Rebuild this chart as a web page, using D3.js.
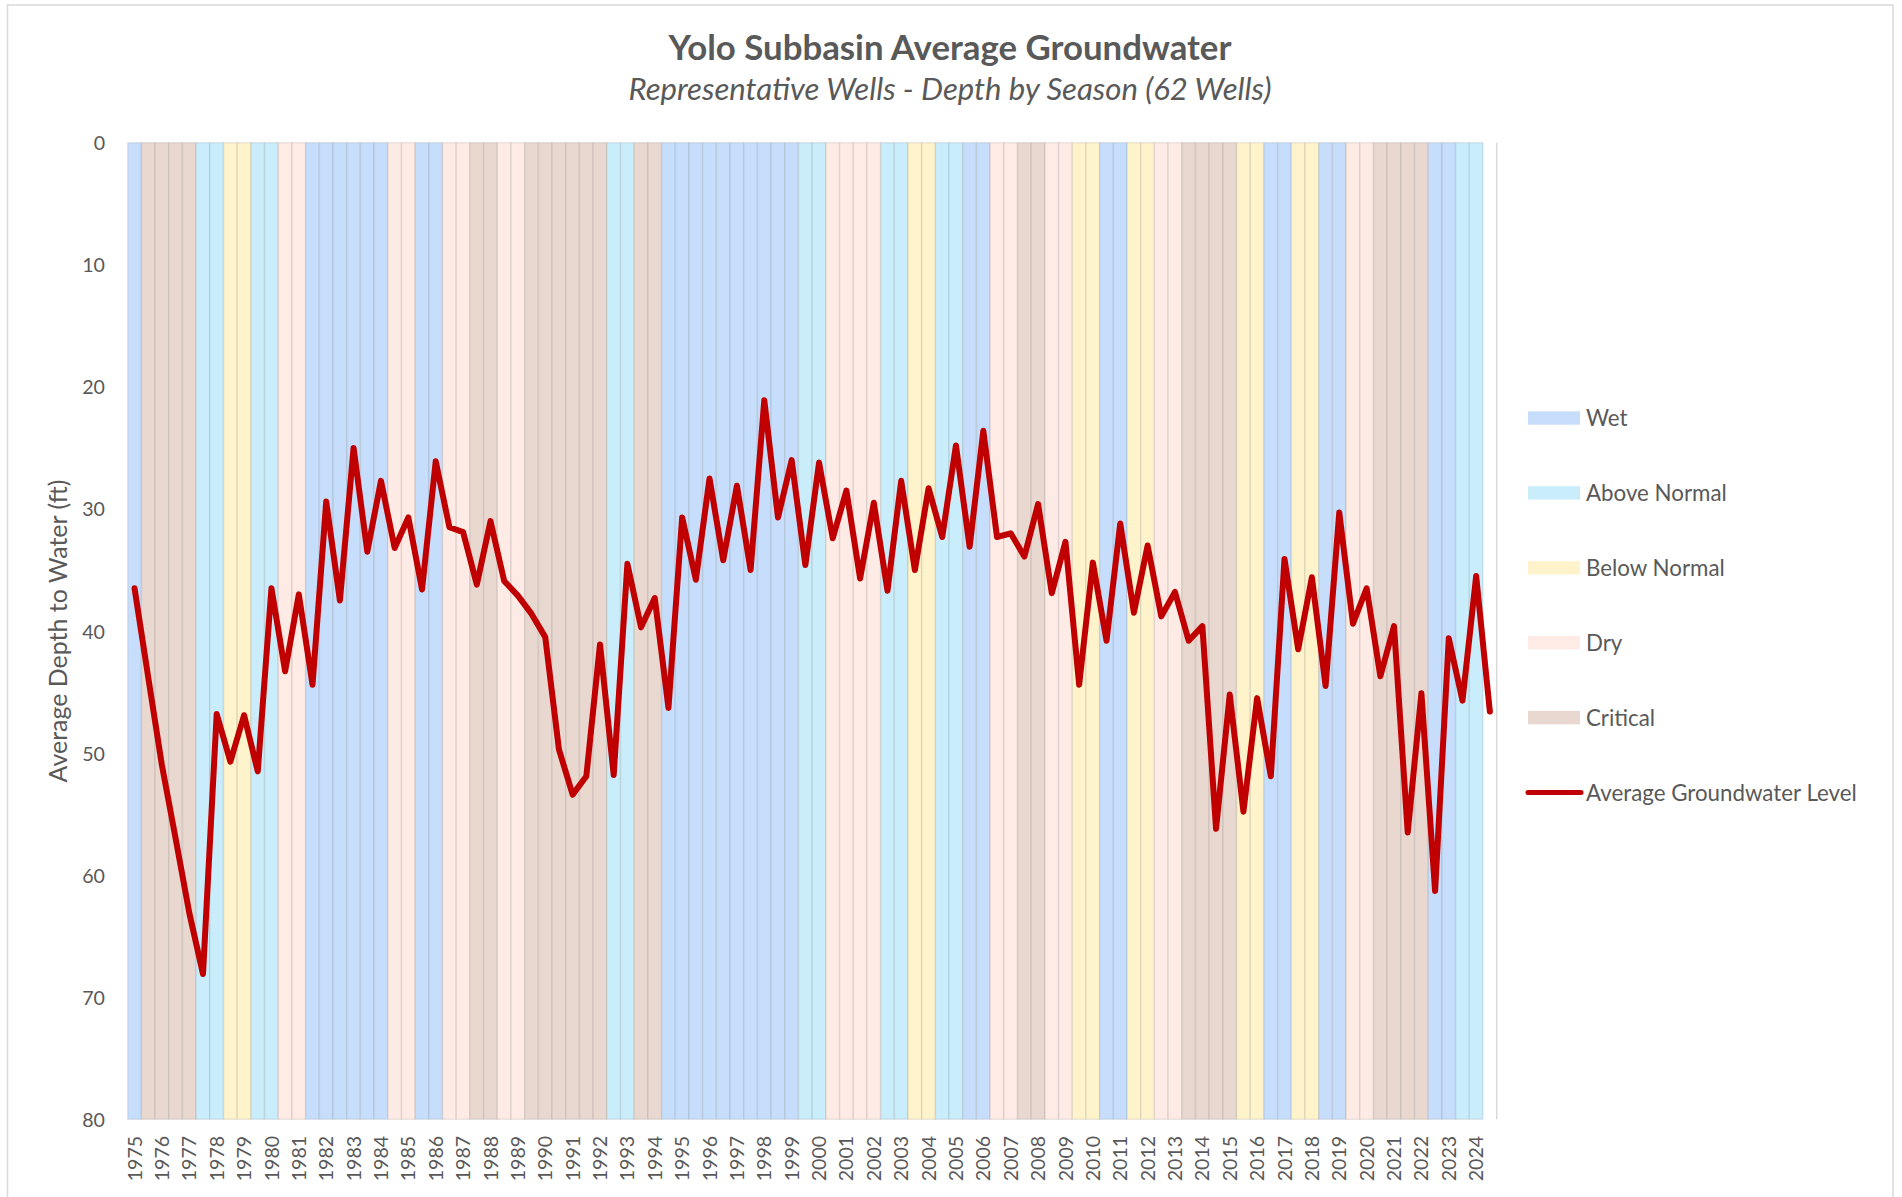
<!DOCTYPE html>
<html>
<head>
<meta charset="utf-8">
<script src="https://cdn.jsdelivr.net/npm/d3@7"></script>
<style>
  html, body { margin: 0; padding: 0; background: #ffffff; }
  svg { display: block; }
</style>
</head>
<body>
<svg id="chart" width="1902" height="1197"></svg>
<script>
// ---------------- DATA ----------------
const years = [1975,1976,1977,1978,1979,1980,1981,1982,1983,1984,1985,1986,1987,1988,1989,
  1990,1991,1992,1993,1994,1995,1996,1997,1998,1999,2000,2001,2002,2003,2004,2005,2006,2007,
  2008,2009,2010,2011,2012,2013,2014,2015,2016,2017,2018,2019,2020,2021,2022,2023,2024];
const seasons = ["Spring", "Fall"];

// Average depth to water (ft), Spring then Fall for each year
const depth = [
  36.5, 43.8,  51.0, 57.0,  63.1, 68.1,  46.8, 50.7,  46.9, 51.5,   // 1975-1979
  36.5, 43.3,  37.0, 44.4,  29.4, 37.5,  25.0, 33.5,  27.7, 33.2,   // 1980-1984
  30.7, 36.6,  26.1, 31.5,  31.9, 36.2,  31.0, 35.9,  37.1, 38.6,   // 1985-1989
  40.5, 49.7,  53.4, 51.9,  41.1, 51.8,  34.5, 39.7,  37.3, 46.3,   // 1990-1994
  30.7, 35.8,  27.5, 34.2,  28.1, 35.0,  21.1, 30.7,  26.0, 34.6,   // 1995-1999
  26.2, 32.4,  28.5, 35.7,  29.5, 36.7,  27.7, 35.0,  28.3, 32.3,   // 2000-2004
  24.8, 33.1,  23.6, 32.3,  32.0, 33.9,  29.6, 36.9,  32.7, 44.4,   // 2005-2009
  34.4, 40.8,  31.2, 38.5,  33.0, 38.8,  36.8, 40.8,  39.6, 56.2,   // 2010-2014
  45.2, 54.8,  45.5, 51.9,  34.1, 41.5,  35.6, 44.5,  30.3, 39.4,   // 2015-2019
  36.5, 43.7,  39.6, 56.5,  45.1, 61.3,  40.6, 45.7,  35.5, 46.6    // 2020-2024
];

// Sacramento Valley water year type, WY1975 .. WY2024
const yearTypes = [
  "Wet","Critical","Critical","Above Normal","Below Normal","Above Normal","Dry","Wet","Wet","Wet",
  "Dry","Wet","Dry","Critical","Dry","Critical","Critical","Critical","Above Normal","Critical",
  "Wet","Wet","Wet","Wet","Wet","Above Normal","Dry","Dry","Above Normal","Below Normal",
  "Above Normal","Wet","Dry","Critical","Dry","Below Normal","Wet","Below Normal","Dry","Critical",
  "Critical","Below Normal","Wet","Below Normal","Wet","Dry","Critical","Critical","Wet","Above Normal"
];

const typeNames  = ["Wet", "Above Normal", "Below Normal", "Dry", "Critical"];
const typeColors = ["#C6DEFB", "#CAEDFC", "#FFF3CC", "#FFEBE5", "#E8D8CF"];
const yTicks = [0, 10, 20, 30, 40, 50, 60, 70, 80];
const lineName = "Average Groundwater Level";

// ---------------- LAYOUT ----------------
const svg = d3.select("#chart");
const FONT = "Lato, 'Open Sans', 'DejaVu Sans', sans-serif";
const TEXT = "#595959";
const plot = { left: 127.7, right: 1496.7, top: 142.7, bottom: 1119.3 };

const categories = [];
years.forEach(yr => seasons.forEach(s => categories.push(yr + " " + s)));

const x = d3.scaleBand().domain(categories).range([plot.left, plot.right]).padding(0);
const y = d3.scaleLinear().domain([0, 80]).range([plot.top, plot.bottom]);
const color = d3.scaleOrdinal().domain(typeNames).range(typeColors);

function fitText(sel, target) {
  sel.attr("font-size", 100);
  const w = sel.node().getComputedTextLength();
  const fs = 100 * target / w;
  sel.attr("font-size", fs);
  return fs;
}

// outer chart border
svg.append("rect")
  .attr("x", 7.5).attr("y", 5).attr("width", 1885.5).attr("height", 1205)
  .attr("fill", "none").attr("stroke", "#D9D9D9").attr("stroke-width", 1.5);

// ---------------- BANDS ----------------
// band 0 = spring 1975 (WY1975); fall of year N and spring of N+1 belong to WY N+1
const bandData = categories.map((c, i) => {
  const wyIndex = i === 0 ? 0 : Math.ceil(i / 2);
  return { cat: c, type: wyIndex < yearTypes.length ? yearTypes[wyIndex] : null };
}).filter(d => d.type !== null);

svg.append("g").selectAll("rect")
  .data(bandData)
  .join("rect")
  .attr("x", d => x(d.cat))
  .attr("y", y(0))
  .attr("width", x.bandwidth())
  .attr("height", y(80) - y(0))
  .attr("fill", d => color(d.type))
  .attr("stroke", "rgba(90,90,90,0.13)")
  .attr("stroke-width", 1.5);

// right axis line
svg.append("line")
  .attr("x1", plot.right).attr("x2", plot.right)
  .attr("y1", y(0)).attr("y2", y(80))
  .attr("stroke", "#D9D9D9").attr("stroke-width", 1.5);

// ---------------- LINE ----------------
const lineData = categories.map((c, i) => ({ cat: c, v: depth[i] }));
const line = d3.line()
  .x(d => x(d.cat) + x.bandwidth() / 2)
  .y(d => y(d.v));

svg.append("path")
  .datum(lineData)
  .attr("d", line)
  .attr("fill", "none")
  .attr("stroke", "#C00000")
  .attr("stroke-width", 6)
  .attr("stroke-linejoin", "round")
  .attr("stroke-linecap", "round");

// ---------------- AXES ----------------
const probe = svg.append("text").attr("font-family", FONT).text("1975");
const tickFs = fitText(probe, 45.5);
probe.remove();

const xAxis = d3.axisBottom(x)
  .tickValues(categories.filter(c => c.endsWith("Spring")))
  .tickFormat(c => c.split(" ")[0])
  .tickSize(0);
const gx = svg.append("g").attr("transform", `translate(0,${plot.bottom})`).call(xAxis);
gx.select(".domain").remove();
gx.selectAll("text")
  .attr("font-family", FONT).attr("font-size", tickFs).attr("fill", TEXT)
  .attr("transform", "rotate(-90)")
  .attr("text-anchor", "end")
  .attr("x", -16.5).attr("y", 0).attr("dy", "0.36em");

const yAxis = d3.axisLeft(y).tickValues(yTicks).tickSize(0);
const gy = svg.append("g").attr("transform", `translate(105,0)`).call(yAxis);
gy.select(".domain").remove();
gy.selectAll("text")
  .attr("font-family", FONT).attr("font-size", tickFs).attr("fill", TEXT)
  .attr("x", 0).attr("dy", "0.36em");

// y-axis title
const yTitle = svg.append("text")
  .attr("transform", `translate(58,${(plot.top + plot.bottom) / 2}) rotate(-90)`)
  .attr("text-anchor", "middle").attr("dy", "0.36em")
  .attr("font-family", FONT).attr("fill", TEXT)
  .text("Average Depth to Water (ft)");
fitText(yTitle, 303);

// ---------------- TITLES ----------------
const title = svg.append("text")
  .attr("x", 950).attr("y", 60).attr("text-anchor", "middle")
  .attr("font-family", FONT).attr("font-weight", "bold").attr("fill", TEXT)
  .text("Yolo Subbasin Average Groundwater");
fitText(title, 563);

const subtitle = svg.append("text")
  .attr("x", 950).attr("y", 100).attr("text-anchor", "middle")
  .attr("font-family", FONT).attr("font-style", "italic").attr("fill", TEXT)
  .text("Representative Wells - Depth by Season (62 Wells)");
fitText(subtitle, 643);

// ---------------- LEGEND ----------------
const legendY0 = 418, legendStep = 74.9;
const lg = svg.append("g");
const legendItems = typeNames.map(n => ({ name: n, kind: "band" })).concat([{ name: lineName, kind: "line" }]);

const probe2 = svg.append("text").attr("font-family", FONT).text(lineName);
const legFs = fitText(probe2, 271);
probe2.remove();

legendItems.forEach((d, i) => {
  const cy = legendY0 + i * legendStep;
  if (d.kind === "band") {
    lg.append("rect")
      .attr("x", 1528).attr("y", cy - 6.7).attr("width", 52).attr("height", 13.4)
      .attr("fill", color(d.name));
  } else {
    lg.append("line")
      .attr("x1", 1528).attr("x2", 1581).attr("y1", cy).attr("y2", cy)
      .attr("stroke", "#C00000").attr("stroke-width", 5).attr("stroke-linecap", "round");
  }
  lg.append("text")
    .attr("x", 1586).attr("y", cy).attr("dy", "0.36em")
    .attr("font-family", FONT).attr("font-size", legFs).attr("fill", TEXT)
    .text(d.name);
});
</script>
</body>
</html>
